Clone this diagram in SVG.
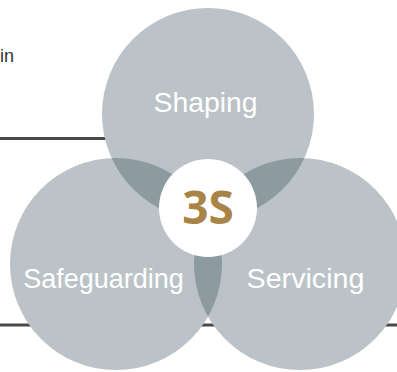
<svg xmlns="http://www.w3.org/2000/svg" width="397" height="372" viewBox="0 0 397 372">
<style>
.rule{stroke:#48494b;stroke-width:3;fill:none}
.c{fill:#bcc3c8}
.ov{fill:#8d9ba1}
.lbl{font-family:"Liberation Sans",Arial,sans-serif;font-size:27px;fill:#ffffff;text-anchor:middle}
</style>
<defs>
<clipPath id="cT"><circle cx="208" cy="114" r="106"/></clipPath>
<clipPath id="cL"><circle cx="116" cy="264" r="106"/></clipPath>
<clipPath id="cR"><circle cx="300" cy="264" r="106"/></clipPath>
</defs>
<text x="0" y="62" font-family="Liberation Sans, Arial, sans-serif" font-size="18" fill="#333333">in</text>
<g id="connectors">
<line class="rule" x1="0" y1="138.5" x2="150" y2="138.5"/>
<line class="rule" x1="0" y1="325" x2="397" y2="325"/>
</g>
<g id="shaping">
<circle class="c" cx="208" cy="114" r="106"/>
</g>
<g id="safeguarding">
<circle class="c" cx="116" cy="264" r="106"/>
</g>
<g id="servicing">
<circle class="c" cx="300" cy="264" r="106"/>
</g>
<g id="overlaps">
<g clip-path="url(#cT)"><circle class="ov" cx="116" cy="264" r="106"/></g>
<g clip-path="url(#cT)"><circle class="ov" cx="300" cy="264" r="106"/></g>
<g clip-path="url(#cL)"><circle class="ov" cx="300" cy="264" r="106"/></g>
</g>
<g id="labels">
<text class="lbl" x="205.5" y="112" textLength="104" lengthAdjust="spacingAndGlyphs">Shaping</text>
<text class="lbl" x="103.5" y="288">Safeguarding</text>
<text class="lbl" x="305.5" y="288" textLength="118" lengthAdjust="spacingAndGlyphs">Servicing</text>
</g>
<g id="center">
<circle cx="208" cy="208" r="49" fill="#ffffff"/>
<text x="208" y="224" font-family="Open Sans, Noto Sans, sans-serif" font-weight="bold" font-size="46" fill="#a98446" text-anchor="middle">3S</text>
</g>
</svg>
